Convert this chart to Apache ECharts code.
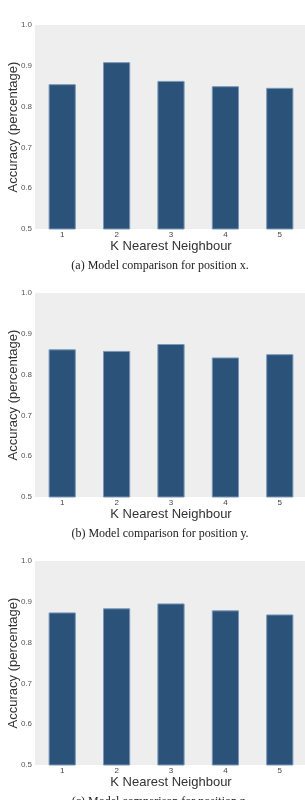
<!DOCTYPE html>
<html>
<head>
<meta charset="utf-8">
<script src="https://cdn.jsdelivr.net/npm/echarts@6/dist/echarts.min.js"></script>
<style>
  html, body { margin: 0; padding: 0; background: #fff; }
  #chart { width: 305px; height: 800px; }
</style>
</head>
<body>
<div id="chart"></div>
<script>
// K values on the x axis
const kValues = ['1', '2', '3', '4', '5'];

// accuracy per K for each position
const accX = [0.855, 0.909, 0.863, 0.850, 0.846];
const accY = [0.862, 0.858, 0.875, 0.842, 0.850];
const accZ = [0.874, 0.884, 0.896, 0.879, 0.869];

const captions = [
  '(a) Model comparison for position x.',
  '(b) Model comparison for position y.',
  '(c) Model comparison for position z.'
];

const panelTops = [25, 293, 561];
const panelData = [accX, accY, accZ];

const chart = echarts.init(document.getElementById('chart'));

const grids = [];
const xAxes = [];
const yAxes = [];
const series = [];
const captionTexts = [];

panelTops.forEach((top, i) => {
  grids.push({
    left: 35,
    top: top,
    width: 272,
    height: 204,
    outerBoundsMode: 'none',
    containLabel: false,
    backgroundColor: '#EEEEEE',
    show: true,
    borderWidth: 0
  });
  xAxes.push({
    type: 'category',
    gridIndex: i,
    data: kValues,
    axisLine: { show: false },
    axisTick: { show: false },
    axisLabel: { fontSize: 8, color: '#444', margin: 2, fontFamily: 'Liberation Sans' },
    name: 'K Nearest Neighbour',
    nameLocation: 'middle',
    nameGap: 11,
    nameMoveOverlap: false,
    nameTextStyle: { fontSize: 13, color: '#333', fontFamily: 'Liberation Sans' }
  });
  yAxes.push({
    type: 'value',
    gridIndex: i,
    min: 0.5,
    max: 1.0,
    interval: 0.1,
    splitLine: { show: false },
    axisLine: { show: false },
    axisTick: { show: false },
    axisLabel: {
      fontSize: 8,
      color: '#555',
      margin: 3,
      fontFamily: 'Liberation Sans',
      formatter: (v) => v.toFixed(1)
    },
    name: 'Accuracy (percentage)',
    nameLocation: 'middle',
    nameGap: 15,
    nameMoveOverlap: false,
    nameTextStyle: { fontSize: 13, color: '#333', fontFamily: 'Liberation Sans' }
  });
  series.push({
    type: 'bar',
    xAxisIndex: i,
    yAxisIndex: i,
    data: panelData[i],
    barWidth: '50%',
    itemStyle: {
      color: '#2B5279',
      borderColor: '#7A97B8',
      borderWidth: 1
    }
  });
  // caption below each panel, drawn as free text so it may run off the bottom edge
  captionTexts.push({
    type: 'text',
    x: 160,
    y: top + 241,
    style: {
      text: captions[i],
      align: 'center',
      verticalAlign: 'middle',
      fontSize: 12,
      fill: '#222',
      fontFamily: 'Liberation Serif'
    }
  });
});

chart.setOption({
  animation: false,
  grid: grids,
  xAxis: xAxes,
  yAxis: yAxes,
  series: series,
  graphic: captionTexts
});
</script>
</body>
</html>
